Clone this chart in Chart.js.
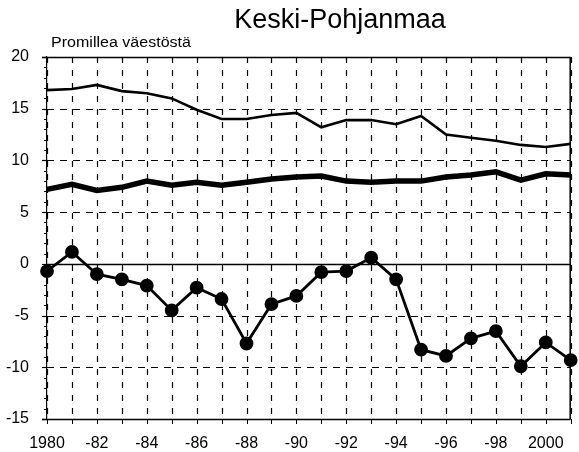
<!DOCTYPE html>
<html><head><meta charset="utf-8">
<script src="https://cdn.jsdelivr.net/npm/chart.js@4"></script>
<style>html,body{margin:0;padding:0;background:#fff}</style>
</head><body>
<canvas id="c" width="579" height="452"></canvas>
<script>
const years = [1980,1981,1982,1983,1984,1985,1986,1987,1988,1989,1990,1991,1992,1993,1994,1995,1996,1997,1998,1999,2000,2001];
const births = [16.8,16.9,17.3,16.7,16.5,16.0,14.9,14.0,14.0,14.4,14.6,13.2,13.9,13.9,13.5,14.3,12.5,12.2,11.9,11.5,11.3,11.6];
const deaths = [7.2,7.7,7.1,7.4,8.0,7.6,7.9,7.6,7.9,8.2,8.4,8.5,8.0,7.9,8.0,8.0,8.4,8.6,8.9,8.1,8.7,8.6];
const migration = [-0.7,1.15,-1.0,-1.5,-2.1,-4.5,-2.3,-3.4,-7.7,-3.9,-3.1,-0.8,-0.7,0.6,-1.5,-8.3,-8.9,-7.2,-6.5,-9.9,-7.6,-9.3];
const yMin = -15, yMax = 20, yStep = 5;
const yTickValues = [-15,-10,-5,0,5,10,15,20];
const titleText = 'Keski-Pohjanmaa';
const yAxisLabel = 'Promillea väestöstä';

function yearLabel(y){
  if (y % 2 !== 0) return '';
  if (y === 1980 || y === 2000) return String(y);
  return '-' + String(y).slice(2);
}

const gridPlugin = {
  id: 'grid',
  beforeDatasetsDraw(chart){
    const ctx = chart.ctx;
    const a = chart.chartArea;
    const xs = chart.scales.x, ys = chart.scales.y;
    ctx.save();
    ctx.strokeStyle = '#000';
    ctx.lineWidth = 1.2;
    ctx.setLineDash([6, 7]);
    years.forEach((yr, i) => {
      const x = Math.round(xs.getPixelForValue(i)) + 0.5;
      ctx.beginPath(); ctx.moveTo(x, a.top); ctx.lineTo(x, a.bottom); ctx.stroke();
    });
    ctx.setLineDash([7, 6]);
    yTickValues.forEach(v => {
      if (v === 0 || v === yMin || v === yMax) return;
      const y = Math.round(ys.getPixelForValue(v)) + 0.5;
      ctx.beginPath(); ctx.moveTo(a.left, y); ctx.lineTo(a.right, y); ctx.stroke();
    });
    ctx.setLineDash([]);
    ctx.lineWidth = 1.5;
    [0, yMin, yMax].forEach(v => {
      const y = Math.round(ys.getPixelForValue(v)) + 0.5;
      ctx.beginPath(); ctx.moveTo(a.left - (v===0?0:5), y); ctx.lineTo(a.right, y); ctx.stroke();
    });
    ctx.beginPath(); ctx.moveTo(a.right - 0.5, a.top); ctx.lineTo(a.right - 0.5, a.bottom); ctx.stroke();
    ctx.lineWidth = 1.2;
    yTickValues.forEach(v => {
      const y = Math.round(ys.getPixelForValue(v)) + 0.5;
      ctx.beginPath(); ctx.moveTo(a.left - 5, y); ctx.lineTo(a.left, y); ctx.stroke();
    });
    ctx.lineWidth = 1;
    for (let v = yMin; v <= yMax; v++) {
      if (v % yStep === 0) continue;
      const y = Math.round(ys.getPixelForValue(v)) + 0.5;
      ctx.beginPath(); ctx.moveTo(a.left - 3, y); ctx.lineTo(a.left, y); ctx.stroke();
    }
    years.forEach((yr, i) => {
      const x = Math.round(xs.getPixelForValue(i)) + 0.5;
      ctx.beginPath(); ctx.moveTo(x, a.bottom); ctx.lineTo(x, a.bottom + 5); ctx.stroke();
    });
    ctx.restore();
  },
  afterDraw(chart){
    const ctx = chart.ctx;
    ctx.save();
    ctx.fillStyle = '#000';
    ctx.font = '27px "Liberation Sans", Arial, sans-serif';
    ctx.textAlign = 'center';
    ctx.textBaseline = 'middle';
    ctx.fillText(titleText, 340, 21);
    ctx.font = '14px "Liberation Sans", Arial, sans-serif';
    ctx.textAlign = 'left';
    const w = ctx.measureText(yAxisLabel).width;
    ctx.translate(51, 43);
    ctx.scale(140 / w, 1);
    ctx.fillText(yAxisLabel, 0, 0);
    ctx.restore();
  }
};

new Chart(document.getElementById('c'), {
  type: 'line',
  data: {
    labels: years,
    datasets: [
      {data: births, borderColor:'#000', borderWidth:2.6, pointRadius:0, tension:0},
      {data: deaths, borderColor:'#000', borderWidth:5.5, pointRadius:0, tension:0},
      {data: migration, borderColor:'#000', borderWidth:2.8, pointRadius:5.5, pointBackgroundColor:'#000', pointBorderColor:'#000', tension:0}
    ]
  },
  options: {
    responsive: false,
    animation: false,
    devicePixelRatio: 1,
    layout: {padding: {top: 57, right: 1, left: 0, bottom: 0}},
    plugins: {legend:{display:false}, tooltip:{enabled:false}, title:{display:false}},
    scales: {
      x: {
        type: 'category',
        offset: false,
        grid: {display:false},
        border: {display:false},
        ticks: {color:'#000', autoSkip:false, maxRotation:0, minRotation:0, padding:7,
          font:{family:'"Liberation Sans", Arial, sans-serif', size:16},
          callback: function(v, i){ return yearLabel(years[i]); }},
        afterFit: s => { s.height = 33; }
      },
      y: {
        min: yMin, max: yMax,
        grid: {display:false},
        border: {display:true, color:'#000', width:1.2},
        ticks: {stepSize: yStep, color:'#000', padding:10,
          font:{family:'"Liberation Sans", Arial, sans-serif', size:16}},
        afterFit: s => { s.width = 47; }
      }
    }
  },
  plugins: [gridPlugin]
});
</script>
</body></html>
